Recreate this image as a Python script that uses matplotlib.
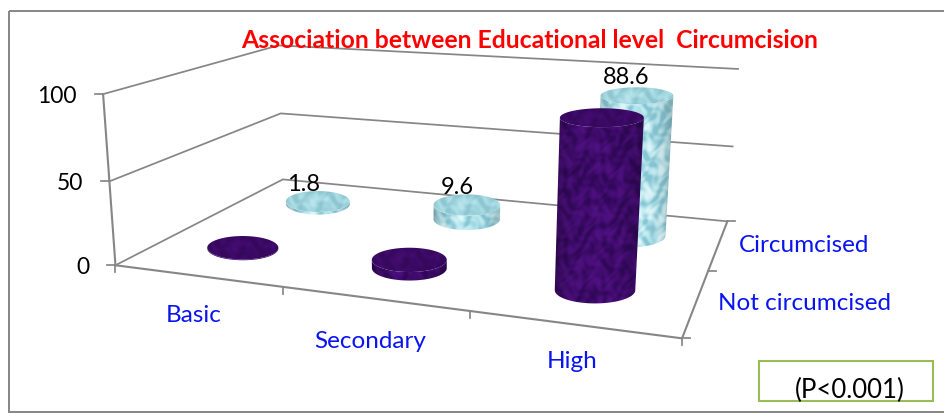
import matplotlib
matplotlib.use('Agg')
import matplotlib.pyplot as plt
import numpy as np
from matplotlib.patches import Polygon, Rectangle

plt.rcParams['font.family'] = ['Lato', 'DejaVu Sans']

categories = ['Basic', 'Secondary', 'High']
series_names = ['Not circumcised', 'Circumcised']
not_circumcised = [0.5, 5.0, 95.0]
circumcised = [1.8, 9.6, 88.6]
value_ticks = [0, 50, 100]

GRID = '#868686'
BLUE = '#0a14f0'

# box corners (category pos, series pos, value) and where they land on the canvas
box_xyz = [(0, 0, 0), (3, 0, 0), (0, 2, 0), (3, 2, 0),
           (0, 0, 50), (0, 2, 50), (3, 2, 50),
           (0, 0, 100), (0, 2, 100), (3, 2, 100)]
box_px = [(115, 266), (682, 338), (283, 179), (727, 222),
          (110, 181), (281, 113), (733, 146),
          (103, 94), (278, 46), (738, 69)]
# cylinder radius in category units, per category
radius = [0.225, 0.213, 0.205]


def fit_camera(xyz, px):
    rows = []
    for (a, b, c), (x, y) in zip(xyz, px):
        c = c / 100
        rows.append([a, b, c, 1, 0, 0, 0, 0, -x*a, -x*b, -x*c, -x])
        rows.append([0, 0, 0, 0, a, b, c, 1, -y*a, -y*b, -y*c, -y])
    return np.linalg.svd(np.array(rows, float))[2][-1].reshape(3, 4)


cam = fit_camera(box_xyz, box_px)


def project(a, b, c):
    a, b, c = np.broadcast_arrays(a, b, np.asarray(c) / 100)
    p = cam @ np.array([a, b, c, np.ones_like(a)], float)
    return p[0] / p[2], p[1] / p[2]


def mottle(w, h, base, dark, light, shade):
    # blotchy surface pattern, shaded towards the cylinder's edges
    yy, xx = np.mgrid[0:h, 0:w].astype(float)
    t = (np.sin(0.23*xx + 2.1*np.sin(0.09*yy + 0.05*xx)) * np.sin(0.19*yy + 2.3*np.sin(0.17*xx + 1.1)) +
         0.6*np.sin(0.41*yy + 1.9*np.sin(0.29*xx + 0.13*yy)) * np.sin(0.37*xx + 1.7*np.sin(0.23*yy)))
    base, dark, light = [np.array(c, float) for c in (base, dark, light)]
    img = np.empty((h, w, 3))
    for i in range(3):
        img[..., i] = base[i] + np.clip(t, 0, 1)*(light[i]-base[i]) + np.clip(-t, 0, 1)*(dark[i]-base[i])
    s = 1 - shade*np.abs(2*(xx + 0.5)/w - 1)**3
    return np.clip(img*s[..., None], 0, 255).astype(np.uint8)


def paint(ax, pts, img, z):
    x0, x1 = np.floor(pts[0].min()) - 1, np.ceil(pts[0].max()) + 1
    y0, y1 = np.floor(pts[1].min()) - 1, np.ceil(pts[1].max()) + 1
    im = ax.imshow(img(int(x1-x0), max(int(y1-y0), 1)), extent=(x0, x1, y1, y0),
                   aspect='auto', zorder=z, interpolation='bilinear')
    im.set_clip_path(Polygon(np.column_stack(pts), transform=ax.transData))


def ring(cat, ser, val, th):
    # discs stay level on screen and get flatter the higher they sit
    r = radius[cat]
    cx, cy = project(cat + 0.5, ser + 0.5, val)
    lx, _ = project(cat + 0.5 - r, ser + 0.5, val)
    rx, _ = project(cat + 0.5 + r, ser + 0.5, val)
    hw = (rx - lx) / 2
    return cx + hw*np.cos(th), cy + (0.33 - 0.11*val/100)*hw*np.sin(th)


def cylinder(ax, cat, ser, val, style, z):
    th = np.linspace(0, 2*np.pi, 120)
    lower = np.linspace(0, np.pi, 60)
    bx, by = ring(cat, ser, 0, lower)
    tx, ty = ring(cat, ser, val, lower)
    side = (np.r_[bx, tx[::-1]], np.r_[by, ty[::-1]])
    paint(ax, side, lambda w, h: mottle(w, h, *style['side']), z)
    paint(ax, ring(cat, ser, val, th), lambda w, h: mottle(w, h, *style['top']), z + 0.1)


fig = plt.figure(figsize=(9.45, 4.13), dpi=100)
ax = fig.add_axes([0, 0, 1, 1])
ax.axis('off')

# outer frame
ax.add_patch(Rectangle((8.5, 11), 960, 400.5, fill=False, ec=GRID, lw=1.4, zorder=1))

# walls and floor lines
for v in value_ticks:
    x, y = project([0, 0, 3], [0, 2, 2], [v, v, v])
    ax.plot(x, y, color=GRID, lw=1.25, zorder=2, solid_joinstyle='miter')
    lx, ly = project(0, 0, v)
    ax.plot([lx - 8, lx], [ly, ly], color=GRID, lw=1.25, zorder=2)
    ax.text(lx - 26, ly + 2.5, str(v), ha='right', va='center', fontsize=16.5, color='black', zorder=6)

x, y = project([0, 0], [0, 0], [0, 100])
ax.plot(x, y, color=GRID, lw=1.5, zorder=2)
x, y = project([0, 3, 3], [0, 0, 2], [0, 0, 0])
ax.plot(x, y, color=GRID, lw=1.5, zorder=2, solid_joinstyle='miter')

# category ticks along the front edge, series ticks on the right edge
for i in range(len(categories) + 1):
    x, y = project(i, 0, 0)
    ax.plot([x, x], [y, y + 7], color=GRID, lw=1.25, zorder=2)
for j in range(len(series_names) + 1):
    x, y = project(3, j, 0)
    ax.plot([x, x + 8], [y, y], color=GRID, lw=1.25, zorder=2)

purple = {'side': ((66, 12, 112), (50, 8, 90), (78, 17, 128), 0.3),
          'top': ((60, 10, 102), (54, 8, 92), (67, 13, 112), 0.0)}
light_blue = {'side': ((182, 230, 238), (138, 200, 214), (222, 247, 250), 0.25),
              'top': ((162, 214, 224), (142, 198, 208), (182, 228, 234), 0.0)}

# value labels sit above the back rim of each disc
label_shift = [(-30, 3), (-22, 3), (-18, -1)]
for i, val in enumerate(circumcised):
    cylinder(ax, i, 1, val, light_blue, 3)
    x, y = project(i + 0.5, 1.75, val)
    ax.text(x + label_shift[i][0], y + label_shift[i][1], f'{val}', ha='center', va='bottom',
            fontsize=17, color='black', zorder=7)
for i, val in enumerate(not_circumcised):
    cylinder(ax, i, 0, val, purple, 4)

# axis labels in blue
for cat, (cx, cy) in zip(categories, [(194, 315), (370.5, 341), (572.5, 362)]):
    ax.text(cx, cy, cat, ha='center', va='center', fontsize=17.5, color=BLUE)
for name, (cx, cy) in zip(series_names, [(804, 303), (804.5, 246)]):
    ax.text(cx, cy, name, ha='center', va='center', fontsize=17.5, color=BLUE)

ax.text(529.5, 41, 'Association between Educational level  Circumcision', ha='center', va='center',
        fontsize=17.8, fontweight='bold', color='#fe0000', zorder=8)

# p-value box
ax.add_patch(Rectangle((759, 361), 174, 40, fill=False, ec='#9bbb59', lw=1.5, zorder=5))
ax.text(849.5, 390, '(P<0.001)', ha='center', va='center', fontsize=18.5, color='black', zorder=6)

ax.set_xlim(0, 945)
ax.set_ylim(413, 0)
fig.savefig('out.png', dpi=100)
